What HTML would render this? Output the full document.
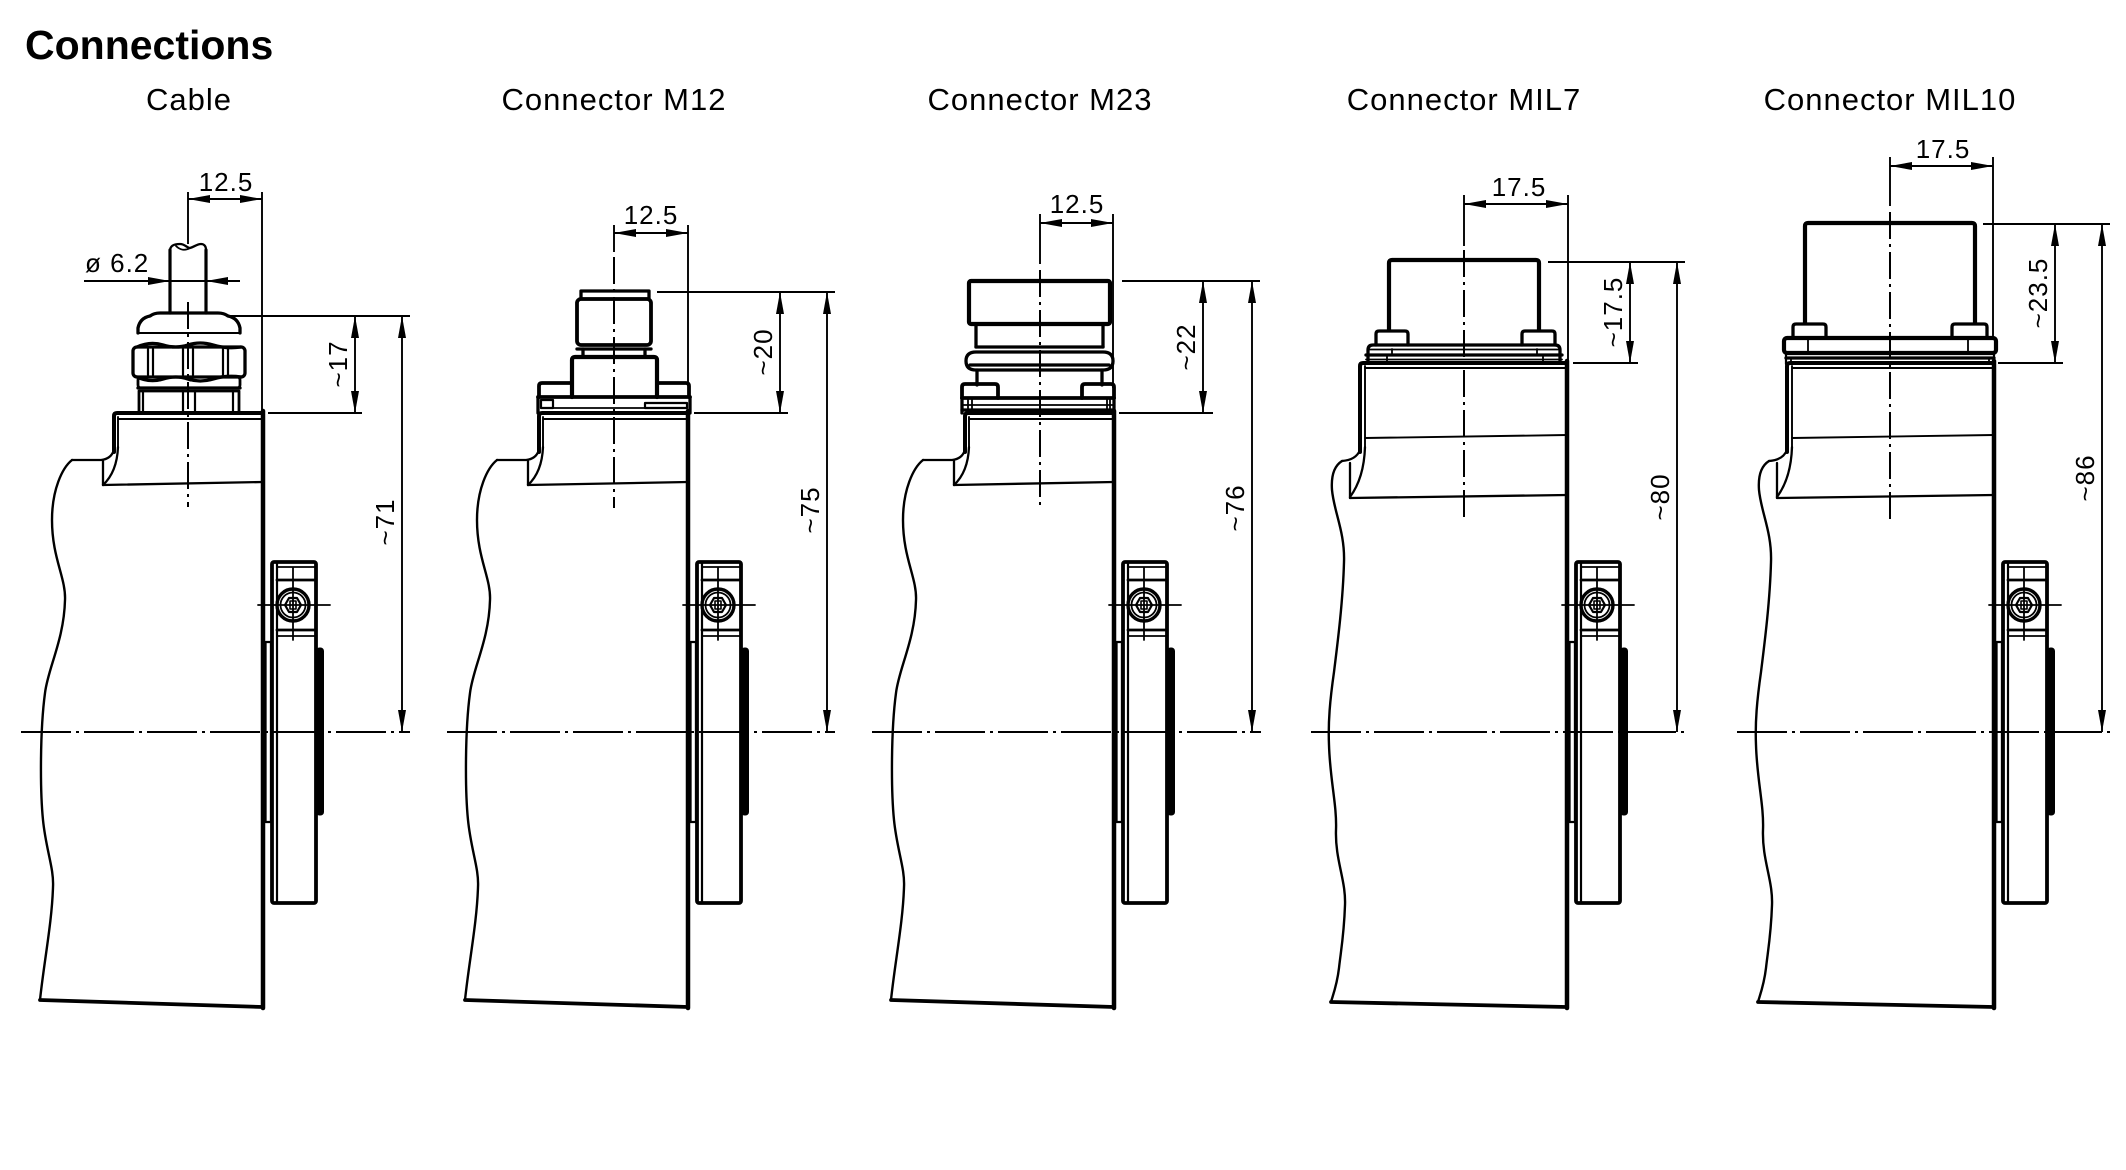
<!DOCTYPE html>
<html><head><meta charset="utf-8">
<style>
html,body{margin:0;padding:0;background:#fff;}
svg{display:block;}
text{font-family:"Liberation Sans",Arial,sans-serif;fill:#000;stroke:none;}
</style></head><body>
<svg width="2126" height="1170" viewBox="0 0 2126 1170" xmlns="http://www.w3.org/2000/svg">
<rect width="2126" height="1170" fill="#fff"/>
<defs>
<g id="hA" fill="none" stroke="#000" stroke-linecap="round" stroke-linejoin="round">
 <path d="M114,452 L114,416 Q114,413 117,413 L263,413" stroke-width="4"/>
 <line x1="118" y1="419" x2="261" y2="419" stroke-width="1.9"/>
 <line x1="118" y1="417" x2="118" y2="448" stroke-width="1.9"/>
 <line x1="263" y1="411" x2="263" y2="1008" stroke-width="4.5"/>
 <path d="M118,447 Q117,472 103,485" stroke-width="2.3"/>
 <path d="M72,460 L101,460 Q111,459 114,450" stroke-width="2.3"/>
 <line x1="103" y1="461" x2="103" y2="485" stroke-width="2.3"/>
 <line x1="103" y1="485" x2="263" y2="482" stroke-width="2.3"/>
 <path d="M72,460 C62,468 52,490 52,520 C52,558 66,578 65,600 C64,640 48,668 45,693 C40,730 40,790 43,820 C46,850 54,868 53,887 C52,922 44,962 40,1000" stroke-width="2.4"/>
 <line x1="40" y1="1000" x2="263" y2="1007" stroke-width="3.8"/>
</g>
<g id="br" fill="none" stroke="#000" stroke-linecap="round" stroke-linejoin="round">
 <rect x="272" y="562" width="44" height="341" rx="2" stroke-width="3.8"/>
 <line x1="277" y1="562" x2="277" y2="903" stroke-width="2.2"/>
 <line x1="277" y1="567" x2="316" y2="567" stroke-width="1.8"/>
 <line x1="277" y1="580" x2="316" y2="580" stroke-width="2.8"/>
 <line x1="277" y1="630" x2="316" y2="630" stroke-width="2.8"/>
 <line x1="277" y1="636" x2="316" y2="636" stroke-width="1.8"/>
 <circle cx="293" cy="605" r="16" stroke-width="3.4"/>
 <circle cx="293" cy="605" r="12.5" stroke-width="1.8"/>
 <polygon points="285,605 289,598 297,598 301,605 297,612 289,612" stroke-width="2.2"/>
 <rect x="290" y="601" width="6" height="8" stroke-width="1.6"/>
 <line x1="258" y1="605" x2="330" y2="605" stroke-width="1.8"/>
 <line x1="293" y1="568" x2="293" y2="640" stroke-width="1.8"/>
 <rect x="265.5" y="642" width="5.5" height="180" stroke-width="2.3"/>
 <rect x="316.5" y="648" width="7" height="167" rx="3" fill="#000" stroke-width="1"/>
</g>
<g id="hB" fill="none" stroke="#000" stroke-linecap="round" stroke-linejoin="round">
 <path d="M1360,452 L1360,366 Q1360,363 1363,363 L1567,363" stroke-width="4"/>
 <line x1="1365" y1="368" x2="1565" y2="368" stroke-width="1.9"/>
 <line x1="1365" y1="366" x2="1365" y2="448" stroke-width="1.9"/>
 <line x1="1567" y1="361" x2="1567" y2="1008" stroke-width="4.5"/>
 <line x1="1365" y1="438" x2="1567" y2="435" stroke-width="1.9"/>
 <path d="M1365,447 Q1364,478 1350,497" stroke-width="2.3"/>
 <path d="M1342,461 Q1356,460 1360,450" stroke-width="2.3"/>
 <line x1="1350" y1="463" x2="1350" y2="498" stroke-width="2.3"/>
 <line x1="1350" y1="498" x2="1567" y2="495" stroke-width="2.3"/>
 <path d="M1342,461 C1334,466 1331,476 1332,490 C1334,512 1345,532 1344,562 C1343,600 1338,640 1334,672 C1330,700 1328,722 1329,745 C1330,780 1337,805 1336,830 C1335,860 1346,880 1345,905 C1344,935 1341,950 1339,968 C1337,985 1333,995 1331,1002" stroke-width="2.4"/>
 <line x1="1331" y1="1002" x2="1567" y2="1007" stroke-width="3.8"/>
</g>
</defs>

<!-- housings -->
<use href="#hA"/>
<use href="#hA" transform="translate(425,0)"/>
<use href="#hA" transform="translate(851,0)"/>
<use href="#hB"/>
<use href="#hB" transform="translate(427,0)"/>
<use href="#br"/>
<use href="#br" transform="translate(425,0)"/>
<use href="#br" transform="translate(851,0)"/>
<use href="#br" transform="translate(1304,0)"/>
<use href="#br" transform="translate(1731,0)"/>

<g fill="none" stroke="#000" stroke-linecap="round" stroke-linejoin="round">
<!-- ===== CABLE ===== -->
 <line x1="170" y1="250" x2="170" y2="313" stroke-width="3.2"/>
 <line x1="206" y1="250" x2="206" y2="313" stroke-width="3.2"/>
 <path d="M170,251 C170,245 175,244 180,244 C185,244 187,248 190,248 C194,247 197,244 201,244 C204,244 206,246 206,250" stroke-width="2.3"/>
 <path d="M176,246 C180,250 185,251 190,248" stroke-width="1.8"/>
 <path d="M138,333 L138,328 Q140,318 150,316 Q154,313 160,313 L218,313 Q224,313 228,316 Q238,318 240,328 L240,333" stroke-width="3.3"/>
 <line x1="138" y1="333" x2="240" y2="333" stroke-width="1.9"/>
 <rect x="133" y="347" width="112" height="30" rx="4" stroke-width="3.3"/>
 <path d="M137,347 Q150,341 163,345 Q176,349 188,345 Q200,341 213,345 Q226,349 241,347" stroke-width="3.3"/>
 <path d="M148,349 V375 M153,349 V375 M183,349 V375 M193,349 V375 M223,349 V375 M228,349 V375" stroke-width="2.2"/>
 <path d="M137,377 Q150,383 163,379 Q176,375 188,379 Q200,383 213,379 Q226,375 241,377" stroke-width="3.3"/>
 <rect x="138" y="377" width="102" height="11" rx="3" stroke-width="2.8"/>
 <line x1="138" y1="388" x2="240" y2="388" stroke-width="3.3"/>
 <path d="M139,413 L139,391 L239,391 L239,413" stroke-width="2.8"/>
 <path d="M143,391 V412 M183,391 V412 M195,391 V412 M233,391 V412" stroke-width="2.2"/>

<!-- ===== M12 connector ===== -->
 <rect x="581" y="291" width="68" height="8" stroke-width="3.3"/>
 <rect x="577" y="299" width="74" height="46" rx="4" stroke-width="3.8"/>
 <line x1="577" y1="349" x2="651" y2="349" stroke-width="3.3"/>
 <path d="M583,349 V357 M645,349 V357" stroke-width="3.3"/>
 <path d="M572,397 L572,360 Q572,357 575,357 L654,357 Q657,357 657,360 L657,397" stroke-width="4.2"/>
 <path d="M539,397 L539,386 Q539,383 542,383 L572,383" stroke-width="3.8"/>
 <path d="M657,383 L686,383 Q689,383 689,386 L689,397" stroke-width="3.8"/>
 <line x1="538" y1="397" x2="690" y2="397" stroke-width="3.8"/>
 <path d="M538,397 V413 M690,397 V413" stroke-width="3.3"/>
 <rect x="541" y="400" width="12" height="8" stroke-width="2.2"/>
 <rect x="645" y="403" width="42" height="5" stroke-width="2.2"/>
 <line x1="553" y1="408" x2="645" y2="408" stroke-width="1.8"/>

<!-- ===== M23 connector ===== -->
 <rect x="969" y="281" width="141" height="43" rx="2" stroke-width="4.2"/>
 <path d="M976,324 V347 M1103,324 V347" stroke-width="3.3"/>
 <line x1="976" y1="347" x2="1103" y2="347" stroke-width="3.3"/>
 <path d="M976,352 L1103,352 Q1113,352 1113,361 Q1113,370 1103,370 L976,370 Q966,370 966,361 Q966,352 976,352 Z" stroke-width="3.3"/>
 <line x1="970" y1="365" x2="1109" y2="365" stroke-width="3.3"/>
 <path d="M977,370 V385 M1102,370 V385" stroke-width="3.3"/>
 <path d="M962,398 L962,387 Q962,384 965,384 L995,384 Q998,384 998,387 L998,398" stroke-width="3.8"/>
 <path d="M1082,398 L1082,387 Q1082,384 1085,384 L1111,384 Q1114,384 1114,387 L1114,398" stroke-width="3.8"/>
 <line x1="962" y1="398" x2="1114" y2="398" stroke-width="3.8"/>
 <path d="M962,398 V413 M1114,398 V413" stroke-width="3.3"/>
 <line x1="962" y1="405" x2="1114" y2="405" stroke-width="1.8"/>
 <line x1="962" y1="410" x2="1114" y2="410" stroke-width="3.3"/>
 <path d="M968,398 V413 M972,398 V413 M1107,398 V413 M1110,398 V413" stroke-width="1.8"/>

<!-- ===== MIL7 connector ===== -->
 <path d="M1389,330 L1389,263 Q1389,260 1392,260 L1536,260 Q1539,260 1539,263 L1539,330" stroke-width="4.2"/>
 <path d="M1376,345 L1376,334 Q1376,331 1379,331 L1405,331 Q1408,331 1408,334 L1408,345" stroke-width="3.3"/>
 <path d="M1522,345 L1522,334 Q1522,331 1525,331 L1552,331 Q1555,331 1555,334 L1555,345" stroke-width="3.3"/>
 <path d="M1368,363 L1368,350 Q1368,345 1373,345 L1555,345 Q1560,345 1560,350 L1560,363" stroke-width="3.3"/>
 <line x1="1369" y1="349.5" x2="1559" y2="349.5" stroke-width="1.8"/>
 <line x1="1366" y1="355" x2="1562" y2="355" stroke-width="3.3"/>
 <line x1="1366" y1="359.5" x2="1562" y2="359.5" stroke-width="1.8"/>
 <path d="M1392,349 V355 M1387,355 V363 M1537,349 V355 M1543,355 V363" stroke-width="1.8"/>

<!-- ===== MIL10 connector ===== -->
 <path d="M1805,323 L1805,226 Q1805,223 1808,223 L1972,223 Q1975,223 1975,226 L1975,323" stroke-width="4.2"/>
 <path d="M1793,338 L1793,327 Q1793,324 1796,324 L1823,324 Q1826,324 1826,327 L1826,338" stroke-width="3.3"/>
 <path d="M1952,338 L1952,327 Q1952,324 1955,324 L1984,324 Q1987,324 1987,327 L1987,338" stroke-width="3.3"/>
 <rect x="1784" y="338" width="212" height="15" rx="3" stroke-width="4.2"/>
 <path d="M1808,340 V352 M1968,340 V352" stroke-width="1.8"/>
 <line x1="1786" y1="358" x2="1994" y2="358" stroke-width="3.3"/>
 <path d="M1786,353 V364 M1994,353 V364" stroke-width="2.2"/>
 <path d="M1791,358 V364 M1989,358 V364" stroke-width="1.8"/>
</g>

<!-- ===== dimension & extension lines ===== -->
<g fill="none" stroke="#000" stroke-width="1.9" stroke-linecap="butt">
 <!-- cable -->
 <line x1="188" y1="192" x2="188" y2="244"/>
 <line x1="262" y1="192" x2="262" y2="410"/>
 <line x1="188" y1="199" x2="262" y2="199"/>
 <line x1="84" y1="281" x2="240" y2="281"/>
 <line x1="227" y1="316" x2="410" y2="316"/>
 <line x1="268" y1="413" x2="362" y2="413"/>
 <line x1="355" y1="316" x2="355" y2="413"/>
 <line x1="402" y1="316" x2="402" y2="732"/>
 <!-- M12 -->
 <line x1="614" y1="225" x2="614" y2="252"/>
 <line x1="688" y1="225" x2="688" y2="383"/>
 <line x1="614" y1="233" x2="688" y2="233"/>
 <line x1="657" y1="292" x2="835" y2="292"/>
 <line x1="694" y1="413" x2="788" y2="413"/>
 <line x1="780" y1="292" x2="780" y2="413"/>
 <line x1="827" y1="292" x2="827" y2="732"/>
 <!-- M23 -->
 <line x1="1040" y1="214" x2="1040" y2="264"/>
 <line x1="1113" y1="214" x2="1113" y2="388"/>
 <line x1="1040" y1="223" x2="1113" y2="223"/>
 <line x1="1122" y1="281" x2="1260" y2="281"/>
 <line x1="1119" y1="413" x2="1213" y2="413"/>
 <line x1="1203" y1="281" x2="1203" y2="413"/>
 <line x1="1252" y1="281" x2="1252" y2="732"/>
 <!-- MIL7 -->
 <line x1="1464" y1="195" x2="1464" y2="246"/>
 <line x1="1568" y1="195" x2="1568" y2="360"/>
 <line x1="1464" y1="204" x2="1568" y2="204"/>
 <line x1="1548" y1="262" x2="1685" y2="262"/>
 <line x1="1573" y1="363" x2="1638" y2="363"/>
 <line x1="1630" y1="262" x2="1630" y2="363"/>
 <line x1="1677" y1="262" x2="1677" y2="732"/>
 <!-- MIL10 -->
 <line x1="1890" y1="157" x2="1890" y2="206"/>
 <line x1="1993" y1="157" x2="1993" y2="338"/>
 <line x1="1890" y1="166" x2="1993" y2="166"/>
 <line x1="1983" y1="224" x2="2110" y2="224"/>
 <line x1="1998" y1="363" x2="2063" y2="363"/>
 <line x1="2055" y1="224" x2="2055" y2="363"/>
 <line x1="2102" y1="224" x2="2102" y2="732"/>
</g>

<!-- centre lines -->
<g fill="none" stroke="#000" stroke-width="2" stroke-linecap="butt">
 <g stroke-dasharray="50 5 3 5">
  <line x1="21" y1="732" x2="410" y2="732"/>
  <line x1="447" y1="732" x2="835" y2="732"/>
  <line x1="872" y1="732" x2="1261" y2="732"/>
  <line x1="1311" y1="732" x2="1686" y2="732"/>
  <line x1="1737" y1="732" x2="2111" y2="732"/>
 </g>
 <g stroke-dasharray="27 5 3 5">
  <line x1="188" y1="302" x2="188" y2="507"/>
  <line x1="614" y1="257" x2="614" y2="508"/>
  <line x1="1040" y1="270" x2="1040" y2="508"/>
  <line x1="1464" y1="250" x2="1464" y2="520"/>
  <line x1="1890" y1="212" x2="1890" y2="522"/>
 </g>
</g>

<!-- arrowheads -->
<g fill="#000" stroke="none">
 <polygon points="188,199 210,195 210,203"/>
 <polygon points="262,199 240,195 240,203"/>
 <polygon points="170,281 148,277 148,285"/>
 <polygon points="206,281 228,277 228,285"/>
 <polygon points="614,233 636,229 636,237"/>
 <polygon points="688,233 666,229 666,237"/>
 <polygon points="1040,223 1062,219 1062,227"/>
 <polygon points="1113,223 1091,219 1091,227"/>
 <polygon points="1464,204 1486,200 1486,208"/>
 <polygon points="1568,204 1546,200 1546,208"/>
 <polygon points="1890,166 1912,162 1912,170"/>
 <polygon points="1993,166 1971,162 1971,170"/>
 <polygon points="355,316 351,338 359,338"/>
 <polygon points="355,413 351,391 359,391"/>
 <polygon points="402,316 398,338 406,338"/>
 <polygon points="402,732 398,710 406,710"/>
 <polygon points="780,292 776,314 784,314"/>
 <polygon points="780,413 776,391 784,391"/>
 <polygon points="827,292 823,314 831,314"/>
 <polygon points="827,732 823,710 831,710"/>
 <polygon points="1203,281 1199,303 1207,303"/>
 <polygon points="1203,413 1199,391 1207,391"/>
 <polygon points="1252,281 1248,303 1256,303"/>
 <polygon points="1252,732 1248,710 1256,710"/>
 <polygon points="1630,262 1626,284 1634,284"/>
 <polygon points="1630,363 1626,341 1634,341"/>
 <polygon points="1677,262 1673,284 1681,284"/>
 <polygon points="1677,732 1673,710 1681,710"/>
 <polygon points="2055,224 2051,246 2059,246"/>
 <polygon points="2055,363 2051,341 2059,341"/>
 <polygon points="2102,224 2098,246 2106,246"/>
 <polygon points="2102,732 2098,710 2106,710"/>
</g>

<!-- text -->
<text x="25" y="59" font-size="41" font-weight="bold">Connections</text>
<g font-size="31" letter-spacing="1" text-anchor="middle">
 <text x="189" y="110">Cable</text>
 <text x="614" y="110">Connector M12</text>
 <text x="1040" y="110">Connector M23</text>
 <text x="1464" y="110">Connector MIL7</text>
 <text x="1890" y="110">Connector MIL10</text>
</g>
<g font-size="26" letter-spacing="1">
 <text x="226" y="191" text-anchor="middle">12.5</text>
 <text x="85" y="272">ø 6.2</text>
 <text x="651" y="224" text-anchor="middle">12.5</text>
 <text x="1077" y="213" text-anchor="middle">12.5</text>
 <text x="1519" y="196" text-anchor="middle">17.5</text>
 <text x="1943" y="158" text-anchor="middle">17.5</text>
</g>
<g font-size="26" letter-spacing="1" text-anchor="middle">
 <text transform="translate(347,364) rotate(-90)">~17</text>
 <text transform="translate(394,522) rotate(-90)">~71</text>
 <text transform="translate(772,352) rotate(-90)">~20</text>
 <text transform="translate(819,510) rotate(-90)">~75</text>
 <text transform="translate(1195,347) rotate(-90)">~22</text>
 <text transform="translate(1244,508) rotate(-90)">~76</text>
 <text transform="translate(1622,312) rotate(-90)">~17.5</text>
 <text transform="translate(1669,497) rotate(-90)">~80</text>
 <text transform="translate(2047,293) rotate(-90)">~23.5</text>
 <text transform="translate(2094,478) rotate(-90)">~86</text>
</g>
</svg>
</body></html>
